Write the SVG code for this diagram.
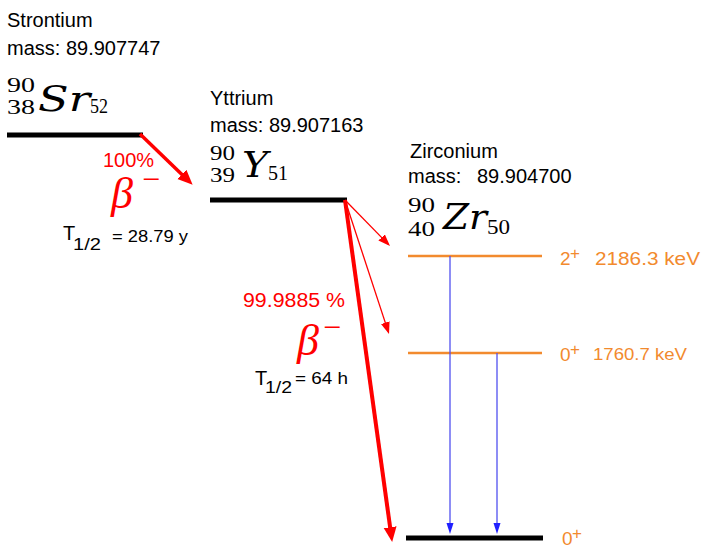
<svg xmlns="http://www.w3.org/2000/svg" width="705" height="548" viewBox="0 0 705 548">
<style>
.sans{font-family:"Liberation Sans",Arial,sans-serif;fill:#000}
.name{font-size:20px}
.math{font-family:"Liberation Serif","Times New Roman",serif;fill:#000}
.sym{font-family:"DejaVu Serif",serif;font-size:36px;font-style:italic}
.idx{font-size:22px}
.red{fill:#ff0000}
.orange{fill:#f28a2e;font-family:"Liberation Sans",Arial,sans-serif}
.lvl{stroke:#000;stroke-width:5}
.olvl{stroke:#f28a2e;stroke-width:2.5}
.beta{font-family:"Liberation Serif","Times New Roman",serif;font-style:italic;font-size:44px;fill:#ff0000}
.minus{font-family:"Liberation Serif","Times New Roman",serif;fill:#ff0000;font-size:32px}
</style>
<defs>
<marker id="hThick" markerUnits="userSpaceOnUse" markerWidth="16" markerHeight="14" refX="8" refY="6.5" orient="auto">
<path d="M0,0 L15,6.5 L0,13 z" fill="#ff0000"/>
</marker>
<marker id="hThin" markerUnits="userSpaceOnUse" markerWidth="14" markerHeight="10" refX="10" refY="4.5" orient="auto">
<path d="M0,0 L12,4.5 L0,9 z" fill="#ff0000"/>
</marker>
<marker id="hBlue" markerUnits="userSpaceOnUse" markerWidth="12" markerHeight="8" refX="8" refY="3.5" orient="auto">
<path d="M0,0 L11,3.5 L0,7 z" fill="#2020ff"/>
</marker>
</defs>

<g id="node-sr">
<text class="sans name" x="7" y="27">Strontium</text>
<text class="sans name" x="7" y="55">mass: 89.907747</text>
<text class="math idx" x="7" y="92" textLength="28" lengthAdjust="spacingAndGlyphs">90</text>
<text class="math idx" x="7" y="114" textLength="28" lengthAdjust="spacingAndGlyphs">38</text>
<text class="math sym" x="38" y="111" textLength="52" lengthAdjust="spacingAndGlyphs">Sr</text>
<text class="math idx" x="90" y="113" textLength="18" lengthAdjust="spacingAndGlyphs">52</text>
<line class="lvl" x1="7" y1="135" x2="143" y2="135"/>
</g>

<g id="node-y">
<text class="sans name" x="210" y="105">Yttrium</text>
<text class="sans name" x="210" y="132">mass: 89.907163</text>
<text class="math idx" x="210" y="160" textLength="25" lengthAdjust="spacingAndGlyphs">90</text>
<text class="math idx" x="210" y="182" textLength="25" lengthAdjust="spacingAndGlyphs">39</text>
<text class="math sym" x="242" y="177" textLength="26" lengthAdjust="spacingAndGlyphs">Y</text>
<text class="math idx" x="268" y="180" textLength="20" lengthAdjust="spacingAndGlyphs">51</text>
<line class="lvl" x1="210" y1="200" x2="347" y2="200"/>
</g>

<g id="node-zr">
<text class="sans name" x="410" y="158">Zirconium</text>
<text class="sans name" x="408" y="183">mass:<tspan x="477">89.904700</tspan></text>
<text class="math idx" x="408" y="212" textLength="27" lengthAdjust="spacingAndGlyphs">90</text>
<text class="math idx" x="408" y="236" textLength="27" lengthAdjust="spacingAndGlyphs">40</text>
<text class="math sym" x="443" y="229" textLength="44" lengthAdjust="spacingAndGlyphs">Zr</text>
<text class="math idx" x="487" y="234" textLength="23" lengthAdjust="spacingAndGlyphs">50</text>
</g>

<g id="node-zr-2186">
<line class="olvl" x1="408" y1="256" x2="542" y2="256"/>
<text class="orange" x="560" y="265" font-size="19">2</text>
<text class="orange" x="570" y="259" font-size="17">+</text>
<text class="orange" x="595" y="265" font-size="18" textLength="105" lengthAdjust="spacingAndGlyphs">2186.3 keV</text>
</g>

<g id="node-zr-1760">
<line class="olvl" x1="408" y1="353" x2="542" y2="353"/>
<text class="orange" x="560" y="361" font-size="19">0</text>
<text class="orange" x="570" y="355" font-size="17">+</text>
<text class="orange" x="593" y="360" font-size="16" textLength="94" lengthAdjust="spacingAndGlyphs">1760.7 keV</text>
</g>

<g id="node-zr-ground">
<line class="lvl" x1="406" y1="538" x2="543" y2="538" stroke-width="6"/>
<text class="orange" x="562" y="545" font-size="19">0</text>
<text class="orange" x="572" y="539" font-size="17">+</text>
</g>

<g id="connectors">
<line x1="140" y1="134" x2="187.6" y2="179.9" stroke="#ff0000" stroke-width="3.5" marker-end="url(#hThick)"/>
<line x1="345" y1="200" x2="391.2" y2="535.1" stroke="#ff0000" stroke-width="4" marker-end="url(#hThick)"/>
<line x1="345" y1="200" x2="388.6" y2="244.6" stroke="#ff0000" stroke-width="1.3" marker-end="url(#hThin)"/>
<line x1="345" y1="200" x2="388.4" y2="332.1" stroke="#ff0000" stroke-width="1.3" marker-end="url(#hThin)"/>
<line x1="450" y1="256" x2="450" y2="531" stroke="#5050f0" stroke-width="1.3" marker-end="url(#hBlue)"/>
<line x1="497" y1="353" x2="497" y2="531" stroke="#5050f0" stroke-width="1.3" marker-end="url(#hBlue)"/>
</g>

<g id="labels">
<text class="sans red" x="103" y="167" font-size="20">100%</text>
<text class="beta" x="111" y="208">β</text>
<text class="minus" x="142" y="190">−</text>
<text class="sans" x="63" y="240" font-size="20">T</text>
<text class="sans" x="73" y="250" font-size="16" textLength="28" lengthAdjust="spacingAndGlyphs">1/2</text>
<text class="sans" x="112" y="242" font-size="16" textLength="76" lengthAdjust="spacingAndGlyphs">= 28.79 y</text>

<text class="sans red" x="243" y="307" font-size="20" textLength="102" lengthAdjust="spacingAndGlyphs">99.9885 %</text>
<text class="beta" x="297" y="355">β</text>
<text class="minus" x="323" y="338" font-size="38">−</text>
<text class="sans" x="255" y="385" font-size="20">T</text>
<text class="sans" x="265" y="393" font-size="16" textLength="27" lengthAdjust="spacingAndGlyphs">1/2</text>
<text class="sans" x="295" y="384" font-size="16" textLength="53" lengthAdjust="spacingAndGlyphs">= 64 h</text>
</g>
</svg>
